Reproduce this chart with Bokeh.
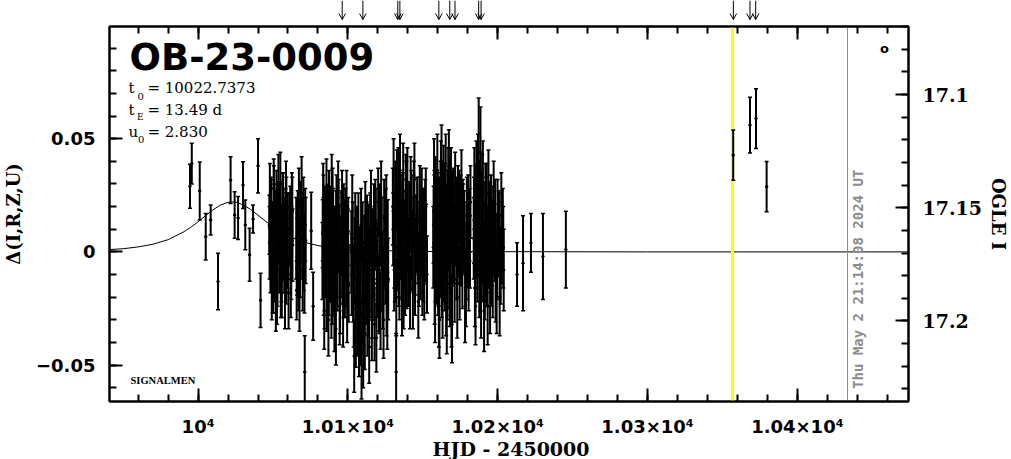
import math
from bokeh.plotting import figure
from bokeh.layouts import column
from bokeh.models import (Range1d, LinearAxis, FixedTicker, CustomJSTickFormatter,
                          ColumnDataSource, Label)
from bokeh.embed import file_html
from bokeh.resources import INLINE

# ---------------- data ----------------
event_name = "OB-23-0009"
t0_text = "10022.7373"
tE_text = "13.49  d"
u0_text = "2.830"
timestamp = "Thu May  2 21:14:08 2024 UT"
survey_tag = "SIGNALMEN"
x_title = "HJD - 2450000"
y_title = "\u0394(I,R,Z,U)"
y2_title = "OGLE I"

obs_t = [
    9994.6, 9995.8, 10001.1, 10005.1, 10008.4, 10013.3, 10021.7, 10024.4, 10026.7, 10030.0,
    10031.5, 10034.4, 10036.7, 10040.0, 10041.7,
    10047.6, 10048.3, 10048.9, 10049.5, 10050.2, 10050.8, 10051.6, 10052.3, 10053.0, 10053.8,
    10054.5, 10055.2, 10056.0, 10056.8, 10057.5, 10058.3, 10059.0, 10059.8, 10061.5, 10062.2,
    10063.0, 10065.8, 10066.5, 10067.3, 10068.0, 10069.5, 10070.3, 10071.0, 10071.2, 10071.8,
    10075.5, 10076.8,
    10083.2, 10083.9, 10084.6, 10085.3, 10086.0, 10086.7, 10087.4, 10088.1, 10088.8, 10089.5,
    10090.2, 10091.0, 10091.7, 10092.4, 10093.1, 10094.0, 10094.8, 10095.6, 10096.4, 10097.2,
    10098.0, 10098.8, 10099.5, 10100.2,
    10102.5, 10103.2, 10103.9, 10104.6, 10105.3, 10106.0, 10106.7, 10107.4, 10108.1, 10108.8,
    10109.5, 10110.2, 10110.9, 10111.6, 10112.3, 10113.0, 10113.8, 10114.6, 10115.4, 10116.2,
    10117.0, 10117.8, 10118.6, 10119.4, 10120.2, 10121.0, 10121.8, 10122.6, 10123.4, 10124.2,
    10125.0, 10125.8, 10126.6,
    10130.2, 10130.9, 10131.6, 10132.2, 10132.3, 10133.0, 10133.7, 10134.4, 10135.1, 10135.8,
    10136.5, 10137.2, 10137.9, 10138.6, 10139.3, 10140.0, 10141.5, 10142.2, 10142.9, 10144.0,
    10144.8, 10145.6, 10147.0, 10147.8, 10148.6, 10150.0, 10151.0, 10152.2,
    10157.2, 10157.9, 10158.6, 10159.3, 10160.0, 10160.7, 10161.4, 10162.1, 10162.8, 10163.5,
    10164.2, 10164.9, 10165.6, 10166.3, 10167.0, 10167.7, 10168.4, 10169.1, 10169.8, 10170.5,
    10171.2, 10172.0, 10173.0, 10174.0, 10175.2, 10176.4, 10177.6, 10178.8, 10180.0, 10181.2,
    10184.0, 10184.8, 10185.6, 10186.4, 10187.3, 10188.1, 10188.9, 10189.7, 10190.5, 10191.4,
    10192.3, 10193.3, 10194.3, 10195.5, 10196.7, 10198.0, 10199.3, 10200.6, 10202.0, 10203.4,
    10212.9, 10216.9, 10222.2, 10230.2, 10245.5,
    10357.2, 10368.4, 10372.4, 10379.5,
]
obs_d = [
    0.029, 0.039, 0.0269, 0.0067, 0.0141, -0.0131, 0.0317, 0.0163, 0.0150, 0.0295,
    0.0119, -0.0013, 0.0145, 0.0380, -0.0214,
    0.012, -0.004, 0.020, 0.006, -0.012, 0.016, 0.002, 0.024, -0.008, 0.010,
    0.018, -0.015, 0.004, 0.021, -0.003, 0.012, -0.010, 0.008, 0.015, -0.006,
    0.003, -0.017, 0.010, 0.022, -0.004, 0.006, 0.017, -0.012, -0.053, 0.005,
    0.0093, -0.024,
    0.008, -0.012, 0.015, -0.002, -0.020, 0.010, 0.022, -0.006, 0.004, -0.015,
    0.013, -0.028, 0.001, 0.018, -0.009, 0.006, -0.018, 0.011, -0.004, 0.016,
    -0.012, 0.003, -0.022, 0.009,
    -0.010, 0.006, -0.025, -0.004, -0.035, 0.002, -0.018, -0.040, -0.008, 0.012,
    -0.022, -0.044, -0.003, 0.016, -0.014, -0.030, 0.004, -0.010, 0.020, -0.020,
    -0.002, -0.032, 0.010, -0.012, 0.022, -0.006, -0.026, 0.008, -0.016, 0.015,
    -0.004, -0.021, 0.005,
    0.010, -0.008, 0.025, -0.053, -0.020, 0.002, 0.030, -0.012, 0.014, -0.002,
    0.020, -0.016, 0.006, 0.027, -0.006, 0.012, -0.018, 0.018, 0.000, 0.024,
    -0.010, 0.008, -0.022, 0.014, -0.004, 0.010, -0.014, 0.004,
    0.012, -0.014, 0.026, -0.004, 0.018, -0.024, 0.005, 0.032, -0.010, 0.014,
    -0.002, 0.022, -0.018, 0.008, 0.028, -0.008, 0.016, -0.026, 0.003, 0.020,
    -0.012, 0.010, -0.020, 0.006, 0.018, -0.006, 0.009, -0.016, 0.002, 0.012,
    0.006, -0.016, 0.020, -0.004, 0.040, 0.010, -0.020, 0.024, 0.000, -0.012,
    0.014, -0.024, 0.006, 0.016, -0.010, 0.004, -0.018, 0.008, -0.006, 0.010,
    -0.010, -0.005, 0.004, -0.002, 0.001,
    0.0427, 0.0560, 0.0589, 0.0288,
]
obs_e = [
    0.0097, 0.0090, 0.0128, 0.0103, 0.0066, 0.0125, 0.0103, 0.0103, 0.0095, 0.0103,
    0.0110, 0.0117, 0.0062, 0.0120, 0.0120,
    0.013, 0.014, 0.012, 0.016, 0.015, 0.014, 0.013, 0.012, 0.016, 0.015,
    0.013, 0.014, 0.017, 0.014, 0.015, 0.016, 0.013, 0.018, 0.014, 0.015,
    0.016, 0.013, 0.017, 0.015, 0.016, 0.018, 0.016, 0.015, 0.016, 0.019,
    0.017, 0.015,
    0.015, 0.016, 0.014, 0.018, 0.015, 0.017, 0.014, 0.016, 0.019, 0.017,
    0.015, 0.016, 0.018, 0.016, 0.017, 0.015, 0.018, 0.016, 0.019, 0.014,
    0.017, 0.016, 0.018, 0.015,
    0.018, 0.016, 0.017, 0.019, 0.016, 0.018, 0.017, 0.015, 0.019, 0.016,
    0.018, 0.016, 0.019, 0.015, 0.018, 0.016, 0.017, 0.019, 0.016, 0.018,
    0.017, 0.016, 0.018, 0.017, 0.015, 0.019, 0.017, 0.016, 0.018, 0.017,
    0.019, 0.016, 0.018,
    0.016, 0.018, 0.015, 0.017, 0.017, 0.019, 0.016, 0.018, 0.017, 0.019,
    0.015, 0.018, 0.017, 0.016, 0.019, 0.017, 0.016, 0.018, 0.017, 0.016,
    0.018, 0.017, 0.016, 0.019, 0.017, 0.018, 0.016, 0.017,
    0.017, 0.018, 0.016, 0.019, 0.017, 0.018, 0.016, 0.017, 0.019, 0.016,
    0.018, 0.017, 0.019, 0.016, 0.018, 0.017, 0.019, 0.016, 0.018, 0.017,
    0.019, 0.016, 0.018, 0.017, 0.016, 0.019, 0.018, 0.017, 0.018, 0.016,
    0.018, 0.017, 0.019, 0.018, 0.028, 0.020, 0.018, 0.019, 0.021, 0.018,
    0.019, 0.017, 0.020, 0.018, 0.019, 0.017, 0.018, 0.019, 0.017, 0.018,
    0.014, 0.021, 0.013, 0.019, 0.017,
    0.0111, 0.0123, 0.0132, 0.0111,
]

# second exposures of the same nights
obs2_t = [
    10047.9, 10049.2, 10050.5, 10051.9, 10053.4, 10054.9, 10055.6, 10057.1, 10058.7, 10060.4,
    10062.6, 10066.1, 10067.7, 10069.1, 10070.7,
    10083.5, 10084.2, 10085.0, 10085.7, 10087.0, 10087.8, 10089.2, 10090.6, 10092.0, 10093.5,
    10095.2, 10096.8, 10097.6, 10099.1, 10100.5,
    10102.9, 10104.2, 10105.7, 10107.0, 10107.8, 10109.1, 10110.6, 10111.3, 10112.7, 10114.2,
    10115.8, 10117.4, 10119.0, 10120.6, 10122.2, 10123.8, 10125.4, 10126.9,
    10130.5, 10131.3, 10133.4, 10134.8, 10136.1, 10136.9, 10138.2, 10139.7, 10140.7, 10141.9,
    10143.4, 10144.4, 10146.2, 10147.4, 10149.3, 10150.5, 10151.6, 10152.8,
    10157.5, 10158.2, 10159.0, 10159.7, 10160.4, 10161.1, 10161.8, 10162.5, 10163.2, 10163.9,
    10164.6, 10165.3, 10166.0, 10166.7, 10167.4, 10168.1, 10168.8, 10169.5, 10170.2, 10171.6,
    10172.5, 10173.5, 10174.6, 10175.8, 10177.0, 10178.2, 10179.4, 10180.6, 10181.8,
    10184.4, 10185.2, 10186.0, 10186.8, 10187.7, 10188.5, 10189.3, 10190.1, 10190.9, 10191.8,
    10192.8, 10193.8, 10194.9, 10196.1, 10197.3, 10198.6, 10199.9, 10201.3, 10202.7, 10204.0,
]
obs2_d = [
    0.025, -0.014, 0.028, -0.020, 0.014, 0.030, -0.006, 0.008, 0.026, -0.018,
    0.020, -0.002, -0.020, 0.026, 0.000,
    0.024, -0.026, 0.010, 0.026, -0.030, 0.004, 0.028, -0.010, -0.034, 0.024,
    -0.002, -0.026, 0.006, 0.020, -0.014,
    0.018, -0.046, -0.012, 0.010, -0.028, -0.050, -0.016, -0.036, 0.008, -0.042,
    -0.008, 0.014, -0.038, -0.018, 0.024, -0.030, 0.012, -0.012,
    0.034, -0.004, 0.016, 0.036, -0.020, 0.032, -0.010, 0.030, -0.002, 0.026,
    -0.016, 0.032, 0.016, -0.008, 0.020, -0.004, 0.016, -0.010,
    0.034, -0.022, 0.010, 0.036, -0.006, -0.030, 0.024, 0.040, -0.020, 0.030,
    -0.010, 0.036, -0.028, 0.018, 0.038, -0.016, 0.030, -0.032, 0.012, 0.028,
    -0.004, 0.020, -0.014, 0.028, 0.012, -0.024, 0.016, -0.008, 0.022,
    0.028, -0.024, 0.008, 0.034, -0.010, 0.044, -0.004, 0.030, -0.026, 0.020,
    -0.006, 0.026, -0.018, 0.004, 0.022, -0.012, 0.014, -0.020, 0.004, -0.008,
]
obs2_e = [
    0.014, 0.016, 0.013, 0.015, 0.017, 0.014, 0.016, 0.015, 0.014, 0.016,
    0.015, 0.017, 0.015, 0.016, 0.017,
    0.015, 0.017, 0.016, 0.015, 0.016, 0.018, 0.015, 0.017, 0.016, 0.016,
    0.018, 0.016, 0.017, 0.016, 0.017,
    0.016, 0.016, 0.018, 0.016, 0.017, 0.015, 0.018, 0.016, 0.017, 0.016,
    0.018, 0.016, 0.015, 0.017, 0.016, 0.017, 0.016, 0.018,
    0.016, 0.018, 0.017, 0.016, 0.017, 0.016, 0.018, 0.016, 0.017, 0.016,
    0.018, 0.016, 0.017, 0.016, 0.017, 0.018, 0.016, 0.017,
    0.016, 0.018, 0.017, 0.016, 0.018, 0.017, 0.016, 0.016, 0.018, 0.017,
    0.016, 0.016, 0.017, 0.018, 0.016, 0.017, 0.016, 0.017, 0.018, 0.016,
    0.017, 0.018, 0.016, 0.017, 0.018, 0.016, 0.017, 0.018, 0.016,
    0.018, 0.017, 0.019, 0.018, 0.019, 0.020, 0.018, 0.019, 0.018, 0.019,
    0.018, 0.019, 0.018, 0.019, 0.018, 0.019, 0.018, 0.017, 0.018, 0.018,
]

# third exposures of the same nights
obs3_t = [
    10047.7, 10048.6, 10049.8, 10050.6, 10051.3, 10052.0, 10052.7, 10053.6, 10054.2, 10055.0,
    10055.9, 10056.4, 10057.3, 10058.0, 10058.9, 10059.5, 10060.9, 10061.9, 10062.9, 10065.5,
    10066.9, 10068.4, 10069.8, 10071.5,
    10083.0, 10083.7, 10084.4, 10085.5, 10086.3, 10087.2, 10088.4, 10089.0, 10089.8, 10090.9,
    10091.4, 10092.2, 10092.8, 10093.8, 10094.5, 10095.9, 10096.1, 10097.0, 10098.4, 10099.3,
    10100.0,
    10102.3, 10103.5, 10104.9, 10106.3, 10107.2, 10108.4, 10109.8, 10110.4, 10111.9, 10112.5,
    10113.4, 10114.9, 10116.0, 10116.6, 10117.6, 10118.3, 10119.7, 10120.9, 10121.4, 10122.9,
    10124.5, 10125.6, 10126.3,
    10130.0, 10131.0, 10131.9, 10132.7, 10133.9, 10134.6, 10135.4, 10136.3, 10137.5, 10138.4,
    10139.0, 10140.3, 10141.2, 10142.5, 10143.7, 10145.0, 10146.6, 10148.0, 10148.9, 10149.7,
    10150.8, 10152.0,
    10157.0, 10157.7, 10158.4, 10159.5, 10160.2, 10161.0, 10161.6, 10162.3, 10163.0, 10163.7,
    10164.4, 10165.1, 10165.8, 10166.5, 10167.2, 10167.9, 10168.6, 10169.3, 10170.0, 10170.8,
    10172.2, 10173.2, 10174.3, 10175.5, 10176.7, 10177.9, 10179.1, 10180.3, 10181.5,
    10184.2, 10185.0, 10185.8, 10186.6, 10187.5, 10188.3, 10189.1, 10189.9, 10190.7, 10191.6,
    10192.6, 10193.6, 10194.6, 10195.8, 10197.0, 10198.3, 10199.6, 10201.0, 10202.4, 10203.7,
]
obs3_d = [
    0.004, 0.018, -0.010, 0.022, -0.004, 0.012, -0.016, 0.026, 0.000, 0.014,
    -0.012, 0.020, 0.006, -0.018, 0.016, 0.002, 0.010, -0.012, 0.018, 0.006,
    -0.010, 0.014, -0.008, 0.012,
    -0.004, 0.018, -0.016, 0.006, 0.014, -0.010, 0.012, -0.022, 0.020, 0.002,
    -0.016, 0.010, -0.002, 0.016, -0.024, 0.008, 0.020, -0.012, 0.012, -0.006,
    0.002,
    0.000, -0.014, 0.010, -0.028, -0.006, -0.034, 0.004, -0.024, -0.010, 0.004,
    -0.020, 0.010, -0.030, 0.002, -0.014, 0.014, -0.004, -0.020, 0.012, -0.008,
    0.000, 0.016, -0.026,
    0.020, 0.002, 0.014, 0.028, -0.006, 0.020, 0.006, 0.016, 0.000, 0.010,
    0.022, -0.008, 0.014, 0.006, 0.018, -0.002, 0.004, 0.022, 0.008, -0.010,
    0.012, 0.020,
    0.002, 0.020, 0.004, 0.014, -0.012, 0.016, -0.002, 0.010, 0.022, -0.004,
    0.018, 0.008, 0.012, -0.014, 0.010, 0.024, -0.002, 0.012, 0.018, 0.002,
    0.016, 0.004, 0.020, 0.002, 0.014, 0.006, -0.004, 0.016, 0.000,
    0.014, 0.002, 0.030, 0.010, 0.020, -0.008, 0.016, 0.004, 0.012, -0.004,
    0.020, 0.002, 0.012, -0.006, 0.010, 0.014, -0.002, 0.008, 0.016, 0.002,
]
obs3_e = [
    0.016, 0.015, 0.017, 0.016, 0.018, 0.015, 0.016, 0.017, 0.018, 0.016,
    0.017, 0.015, 0.018, 0.016, 0.017, 0.018, 0.016, 0.017, 0.015, 0.018,
    0.016, 0.017, 0.018, 0.016,
    0.017, 0.016, 0.018, 0.017, 0.016, 0.018, 0.017, 0.016, 0.017, 0.018,
    0.016, 0.017, 0.018, 0.016, 0.017, 0.018, 0.016, 0.017, 0.016, 0.018,
    0.017,
    0.018, 0.017, 0.016, 0.018, 0.017, 0.016, 0.018, 0.017, 0.016, 0.018,
    0.017, 0.016, 0.018, 0.017, 0.016, 0.018, 0.017, 0.016, 0.018, 0.017,
    0.016, 0.018, 0.017,
    0.017, 0.018, 0.016, 0.017, 0.018, 0.016, 0.017, 0.018, 0.016, 0.017,
    0.018, 0.016, 0.017, 0.018, 0.016, 0.017, 0.018, 0.016, 0.017, 0.018,
    0.016, 0.017,
    0.018, 0.016, 0.017, 0.018, 0.016, 0.017, 0.018, 0.016, 0.017, 0.018,
    0.016, 0.017, 0.018, 0.016, 0.017, 0.018, 0.016, 0.017, 0.018, 0.016,
    0.017, 0.018, 0.016, 0.017, 0.018, 0.016, 0.017, 0.018, 0.016,
    0.019, 0.018, 0.019, 0.018, 0.020, 0.018, 0.019, 0.018, 0.019, 0.018,
    0.019, 0.018, 0.019, 0.018, 0.019, 0.018, 0.019, 0.018, 0.019, 0.018,
]

# model light curve
model_t = [9940.0, 9950.0, 9960.0, 9970.0, 9980.0, 9990.0, 9995.0, 10000.0, 10005.0, 10010.0,
           10015.0, 10020.0, 10022.7, 10025.0, 10030.0, 10035.0, 10040.0, 10045.0, 10050.0,
           10055.0, 10060.0, 10070.0, 10080.0, 10090.0, 10100.0, 10120.0, 10150.0, 10200.0,
           10300.0, 10475.0]
model_d = [0.0010, 0.0014, 0.0022, 0.0034, 0.0054, 0.0087, 0.0108, 0.0133, 0.0160, 0.0186,
           0.0207, 0.0219, 0.0221, 0.0220, 0.0208, 0.0188, 0.0162, 0.0136, 0.0110,
           0.0089, 0.0070, 0.0044, 0.0028, 0.0018, 0.0012, 0.0006, 0.0002, 0.0001,
           0.0, 0.0]

arrow_t = [10096.2, 10110.0, 10133.3, 10134.7, 10160.7, 10168.0, 10171.5, 10187.3,
           10188.9, 10357.3, 10368.4, 10372.2]
highlight_t = 10356.9
now_t = 10433.4

x_major = [10000, 10100, 10200, 10300, 10400]
x_minor = [9960 + 20 * i for i in range(26)]
y_major = [-0.05, 0.0, 0.05]
y_minor = [round(-0.06 + 0.01 * i, 2) for i in range(16)]
mag_major = [17.1, 17.15, 17.2]
mag_minor = [round(17.07 + 0.01 * i, 2) for i in range(17)]
mag_zero = 17.1695   # OGLE I at delta = 0

# ---------------- geometry ----------------
X0, X1 = 9940.87, 10474.2
Y0, Y1 = -0.06608, 0.09956
W, H = 1011, 459
LEFT, RIGHT = 108, 103
TOP_STRIP = 24
MAIN_TOP, FRAME_H, MAIN_BOTTOM = 2, 376, 37
BOT_STRIP = H - TOP_STRIP - MAIN_TOP - FRAME_H - MAIN_BOTTOM
DESC = 0.236  # font descent (em): labels are anchored at the bottom of their box

def dx(px):   # reference screen x -> data x
    return 10000 + (px - 196.7) / 1.5

def dy(py):   # reference screen y -> data y
    return (251.7 - py) / 2270.0

SERIF = "DejaVu Serif"
SANS = "DejaVu Sans"

def strip(height):
    f = figure(width=W, height=height, x_range=Range1d(X0, X1), y_range=Range1d(0, height),
               output_backend="svg", toolbar_location=None,
               min_border_left=LEFT, min_border_right=RIGHT, min_border_top=0,
               min_border_bottom=0, x_axis_location=None, y_axis_location=None,
               outline_line_color=None)
    f.grid.visible = False
    return f

# ---------------- arrows strip ----------------
top = strip(TOP_STRIP)
asrc = ColumnDataSource(dict(t=arrow_t, tl=[a - 2.2 for a in arrow_t], tr=[a + 2.2 for a in arrow_t]))
top.segment(x0="t", y0=TOP_STRIP, x1="t", y1=5, source=asrc, line_color="black", line_width=1)
top.segment(x0="tl", y0=11, x1="t", y1=5, source=asrc, line_color="black", line_width=1)
top.segment(x0="tr", y0=11, x1="t", y1=5, source=asrc, line_color="black", line_width=1)

# ---------------- main plot ----------------
p = figure(width=W, height=MAIN_TOP + FRAME_H + MAIN_BOTTOM, x_range=Range1d(X0, X1),
           y_range=Range1d(Y0, Y1), output_backend="svg", toolbar_location=None,
           min_border_left=LEFT, min_border_right=RIGHT, min_border_top=MAIN_TOP,
           min_border_bottom=MAIN_BOTTOM, x_axis_location=None, y_axis_location=None)
p.grid.visible = False
p.outline_line_color = "black"
p.outline_line_width = 2
p.background_fill_color = "white"
p.border_fill_color = "white"

def style_axis(ax):
    ax.axis_line_width = 2
    ax.major_tick_line_width = 2
    ax.minor_tick_line_width = 2
    ax.major_tick_in = 13
    ax.major_tick_out = 0
    ax.minor_tick_in = 7
    ax.minor_tick_out = 0
    ax.major_label_text_font_style = "bold"
    ax.major_label_text_color = "black"
    ax.axis_label_text_font = SERIF
    ax.axis_label_text_font_style = "bold"
    ax.axis_label_text_color = "black"

xfmt = CustomJSTickFormatter(code="""
const k = Math.round((tick - 10000) / 100);
if (k == 0) return "10\\u2074";
return "1.0" + k + "\\u00d710\\u2074";
""")
xb = LinearAxis(ticker=FixedTicker(ticks=x_major, minor_ticks=x_minor), formatter=xfmt)
style_axis(xb)
xb.major_label_text_font = SANS
xb.major_label_text_font_size = "18px"
xb.major_label_standoff = 14
p.add_layout(xb, "below")

xt = LinearAxis(ticker=FixedTicker(ticks=x_major, minor_ticks=x_minor),
                formatter=CustomJSTickFormatter(code="return '';"))
style_axis(xt)
xt.major_label_text_font_size = "0px"
xt.major_label_standoff = 0
p.add_layout(xt, "above")

yfmt = CustomJSTickFormatter(code="""
const v = Math.round(tick * 100) / 100;
if (v == 0) return "0";
return (v < 0 ? "\\u2212" : "") + Math.abs(v).toFixed(2);
""")
yl = LinearAxis(ticker=FixedTicker(ticks=y_major, minor_ticks=y_minor), formatter=yfmt)
style_axis(yl)
yl.major_label_text_font = SANS
yl.major_label_text_font_size = "18px"
yl.major_label_standoff = 14
yl.axis_label = y_title
yl.axis_label_text_font_size = "18px"
yl.axis_label_standoff = 9
p.add_layout(yl, "left")

p.extra_y_ranges = {"mag": Range1d(mag_zero - Y0, mag_zero - Y1)}
mfmt = CustomJSTickFormatter(code="""
let s = tick.toFixed(2);
if (s.endsWith("0")) s = s.slice(0, -1);
return s;
""")
yr = LinearAxis(y_range_name="mag", ticker=FixedTicker(ticks=mag_major, minor_ticks=mag_minor),
                formatter=mfmt)
style_axis(yr)
yr.major_label_text_font = SERIF
yr.major_label_text_font_size = "19px"
yr.major_label_standoff = 14
yr.axis_label = y2_title
yr.axis_label_text_font_size = "18px"
yr.axis_label_standoff = 3
p.add_layout(yr, "right")

# model curve
p.line(model_t, model_d, line_color="black", line_width=1)

# highlight and "now" lines
p.vspan(x=[highlight_t], line_color="#ffff00", line_width=3)
p.vspan(x=[now_t], line_color="#8c8c8c", line_width=1)

# data with error bars
all_t = obs_t + obs2_t + obs3_t
all_d = obs_d + obs2_d + obs3_d
all_e = obs_e + obs2_e + obs3_e
src = ColumnDataSource(dict(
    t=all_t, d=all_d,
    lo=[d - e for d, e in zip(all_d, all_e)],
    hi=[d + e for d, e in zip(all_d, all_e)],
))
p.segment(x0="t", y0="lo", x1="t", y1="hi", source=src, line_color="black", line_width=2)
p.scatter(x="t", y="lo", source=src, marker="dash", size=4, line_color="black", line_width=1.5)
p.scatter(x="t", y="hi", source=src, marker="dash", size=4, line_color="black", line_width=1.5)
p.scatter(x="t", y="d", source=src, marker="circle", size=2.5, color="black")

# ---------------- texts inside the frame ----------------
def add_text(px, py, text, size=15, font=SERIF, style="normal", color="black",
             align="left", rotated=False):
    # (px, py) is the wanted baseline point in screen pixels
    if rotated:
        x, y, angle = dx(px + DESC * size), dy(py), math.pi / 2
    else:
        x, y, angle = dx(px), dy(py + DESC * size), 0.0
    p.add_layout(Label(x=x, y=y, text=text, text_font=font, text_font_size=f"{size}px",
                       text_font_style=style, text_color=color, text_align=align,
                       angle=angle))

add_text(128, 70, event_name, size=37, font=SANS, style="bold")
add_text(127, 93.3, "t")
add_text(136, 96.7, "0", size=10)
add_text(146, 93.3, "=  " + t0_text)
add_text(127, 115, "t")
add_text(135.5, 119, "E", size=9)
add_text(146, 115, "=  " + tE_text)
add_text(127, 136.7, "u")
add_text(136.5, 140, "0", size=10)
add_text(146, 136.7, "=  " + u0_text)
add_text(129, 383.5, survey_tag, size=10.5, font="Liberation Serif", style="bold")
add_text(879.5, 52, "o", size=13, font=SANS, style="bold")
add_text(862, 389, timestamp, size=14, font="DejaVu Sans Mono", style="bold",
         color="#8c8c8c", rotated=True)

# ---------------- x title strip (y = pixels above the page bottom) ----------------
bot = strip(BOT_STRIP)
bot.add_layout(Label(x=dx(510), y=H - (455 + DESC * 19), text=x_title, text_font=SERIF,
                     text_font_size="19px", text_font_style="bold", text_color="black",
                     text_align="center"))

layout = column(top, p, bot, spacing=0)
open("out.html", "w").write(file_html(layout, INLINE))
